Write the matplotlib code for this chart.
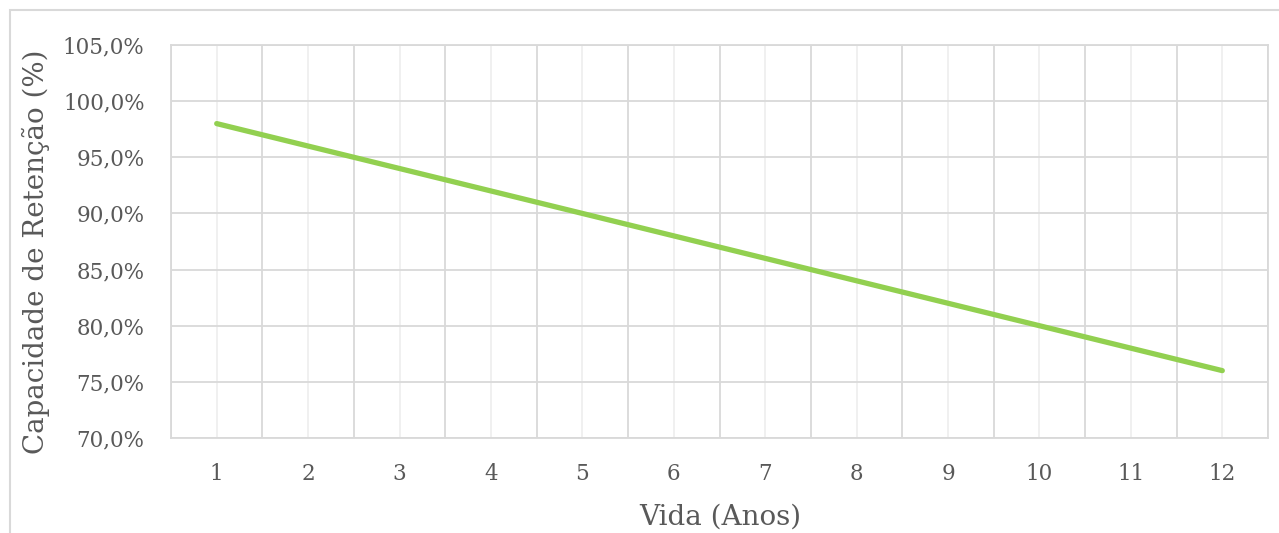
import numpy as np
import matplotlib
matplotlib.use("Agg")
import matplotlib.pyplot as plt
from matplotlib.ticker import FuncFormatter, FixedLocator
from matplotlib.patches import Rectangle

# dados
anos = [1, 2, 3, 4, 5, 6, 7, 8, 9, 10, 11, 12]
retencao = [98, 96, 94, 92, 90, 88, 86, 84, 82, 80, 78, 76]
y_ticks = [70, 75, 80, 85, 90, 95, 100, 105]

texto = "#595959"
grade = "#d9d9d9"
grade_clara = "#efefef"
verde = "#92d050"

plt.rcParams['font.family'] = ['DejaVu Serif']

fig = plt.figure(figsize=(12.79, 5.33), dpi=100)
ax = fig.add_axes([171/1279, 1 - 438/533, (1268 - 171)/1279, (438 - 45)/533])

x = np.arange(len(anos))
ax.plot(x, retencao, color=verde, lw=3.8, solid_capstyle="round", zorder=3)

ax.set_xlim(-0.5, len(anos) - 0.5)
ax.set_ylim(70, 105)

# linhas de grade: fronteiras das categorias e centros
ax.xaxis.set_major_locator(FixedLocator(x))
ax.set_xticklabels([str(a) for a in anos])
for b in np.arange(-0.5, len(anos), 1.0):
    ax.axvline(b, color=grade, lw=1.3, zorder=1)
for c in x:
    ax.axvline(c, color=grade_clara, lw=1.3, zorder=0.5)
ax.yaxis.set_major_locator(FixedLocator(y_ticks))
ax.yaxis.set_major_formatter(FuncFormatter(lambda v, p: ("%.1f%%" % v).replace(".", ",")))
ax.grid(axis="y", color=grade, lw=1.3, zorder=1)

for s in ax.spines.values():
    s.set_color(grade)
    s.set_linewidth(1.3)

ax.tick_params(axis="both", length=0, colors=texto, labelsize=15.5)
ax.tick_params(axis="x", pad=18)
ax.tick_params(axis="y", pad=19)

fig.text(720/1279, 1 - 517/533, "Vida (Anos)", color=texto, fontsize=20,
         ha="center", va="center")
fig.text(36/1279, 1 - 252/533, "Capacidade de Retenção (%)", color=texto, fontsize=20,
         ha="center", va="center", rotation=90)

# moldura do grafico
fig.patches.append(Rectangle((10/1279, -0.5), 2, 1.5 - 10/533, transform=fig.transFigure,
                             fill=False, edgecolor=grade, lw=1.5))

fig.savefig("out.png", dpi=100)
